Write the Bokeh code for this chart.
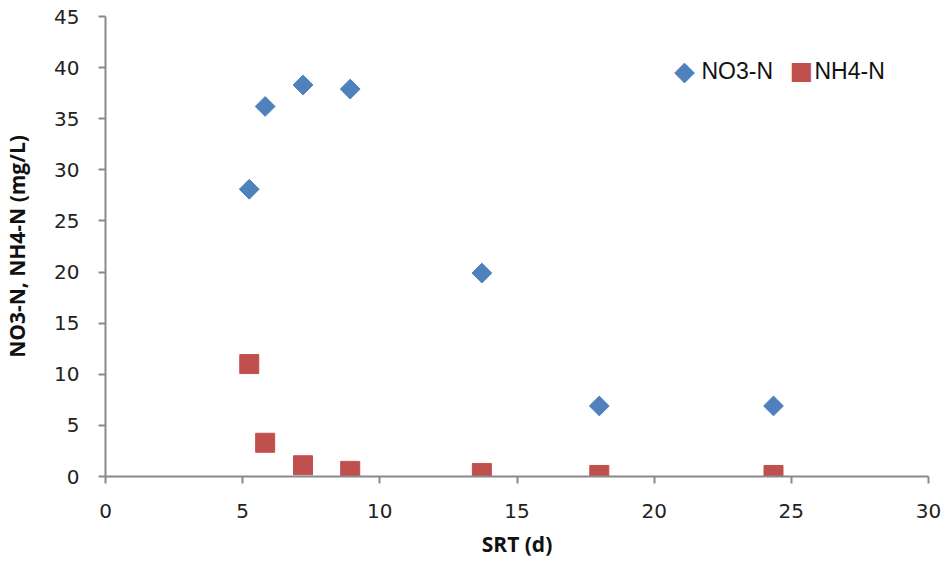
from bokeh.plotting import figure
from bokeh.models import Range1d, FixedTicker, Label, ColumnDataSource
from bokeh.embed import file_html
from bokeh.resources import INLINE
import math

srt = [5.24, 5.82, 7.2, 8.92, 13.72, 18.0, 24.35]
no3 = [28.1, 36.2, 38.3, 37.9, 19.9, 6.9, 6.9]
nh4 = [11.0, 3.3, 1.1, 0.55, 0.35, 0.15, 0.15]
x_ticks = [0, 5, 10, 15, 20, 25, 30]
y_ticks = [0, 5, 10, 15, 20, 25, 30, 35, 40, 45]
series_names = ["NO3-N", "NH4-N"]
series_colors = ["#4F81BD", "#C0504D"]
series_symbols = ["\u25C6", "\u25A0"]

p = figure(width=945, height=565, output_backend="svg", toolbar_location=None,
           x_range=Range1d(0, 30), y_range=Range1d(0, 45),
           min_border_left=104, min_border_right=17, min_border_top=16, min_border_bottom=89)
p.outline_line_color = None
p.xgrid.visible = False
p.ygrid.visible = False
p.background_fill_color = "white"
p.border_fill_color = "white"

src = ColumnDataSource(dict(x=srt, no3=no3, nh4=nh4))
r1 = p.scatter("x", "no3", source=src, marker="square", angle=math.pi / 4, size=14,
               fill_color=series_colors[0], line_color=series_colors[0])
r2 = p.scatter("x", "nh4", source=src, marker="square", size=19,
               fill_color=series_colors[1], line_color=series_colors[1])

for ax in (p.xaxis[0], p.yaxis[0]):
    ax.axis_line_color = "#898989"
    ax.axis_line_width = 2
    ax.major_tick_line_color = "#898989"
    ax.major_tick_line_width = 2
    ax.major_tick_out = 7
    ax.major_tick_in = 0
    ax.minor_tick_line_color = None
    ax.major_label_text_font = "DejaVu Sans"
    ax.major_label_text_font_size = "20px"
    ax.major_label_text_color = "#222222"
    ax.axis_label_text_font = "Open Sans"
    ax.axis_label_text_font_style = "bold"
    ax.axis_label_text_font_size = "21px"
    ax.axis_label_text_color = "#111111"

p.xaxis[0].ticker = FixedTicker(ticks=x_ticks)
p.yaxis[0].ticker = FixedTicker(ticks=y_ticks)
p.xaxis[0].axis_label = "SRT (d)"
p.yaxis[0].axis_label = "NO3-N, NH4-N (mg/L)"
p.xaxis[0].major_label_standoff = 20
p.yaxis[0].major_label_standoff = 19
p.xaxis[0].axis_label_standoff = 9
p.yaxis[0].axis_label_standoff = 20

# legend (screen units relative to the plot frame)
sym_x = [579, 696]
txt_x = [596, 709]
leg_y = 406
sym_sizes = ["27px", "25px"]
for i in range(2):
    p.add_layout(Label(x=sym_x[i], y=leg_y, x_units="screen", y_units="screen",
                       text=series_symbols[i], text_color=series_colors[i],
                       text_font="DejaVu Sans", text_font_size=sym_sizes[i],
                       text_align="center", text_baseline="middle"))
    p.add_layout(Label(x=txt_x[i], y=leg_y, x_units="screen", y_units="screen",
                       text=series_names[i], text_color="#111111",
                       text_font="Liberation Sans", text_font_size="23px",
                       text_align="left", text_baseline="middle"))

open("out.html", "w").write(file_html(p, INLINE))
